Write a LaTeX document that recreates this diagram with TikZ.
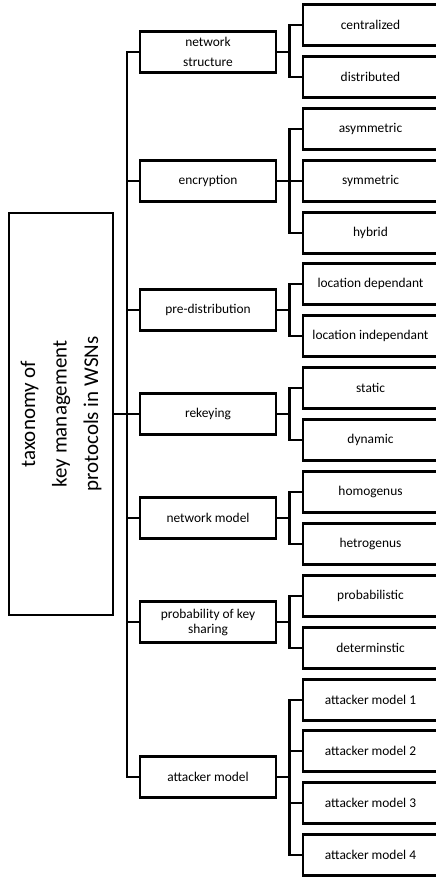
\documentclass[tikz,border=0pt]{standalone}
\usepackage{fontspec}
\setmainfont{Carlito}
\begin{document}
\begin{tikzpicture}[x=1bp,y=-1bp,line width=2.2bp,
  lone/.style={draw,minimum width=136bp,minimum height=41bp,inner sep=0pt,align=center,font=\fontsize{13.4bp}{16bp}\selectfont},
  ltwo/.style={draw,minimum width=135bp,minimum height=41bp,inner sep=0pt,align=center,font=\fontsize{13.4bp}{16bp}\selectfont},
  conn/.style={line width=2.2bp}]
\useasboundingbox (0,0) rectangle (436,877);
% root
\node[draw,rotate=90,minimum width=402bp,minimum height=104bp,inner sep=0pt,align=center,
  font=\fontsize{21bp}{31.5bp}\selectfont] (root) at (61,414) {taxonomy of\\key management\\protocols in WSNs};
% level one
\node[lone,font=\fontsize{13.4bp}{20bp}\selectfont] (ns) at (208,52) {network\\structure};
\node[lone] (en) at (208,181) {encryption};
\node[lone] (pd) at (208,310) {pre-distribution};
\node[lone] (rk) at (208,414) {rekeying};
\node[lone] (nm) at (208,518) {network model};
\node[lone,font=\fontsize{13.4bp}{15bp}\selectfont] (pk) at (208,622) {probability of key\\sharing};
\node[lone] (am) at (208,777) {attacker model};
% level two
\node[ltwo] (c1) at (370.5,25) {centralized};
\node[ltwo] (c2) at (370.5,77) {distributed};
\node[ltwo] (e1) at (370.5,129) {asymmetric};
\node[ltwo] (e2) at (370.5,181) {symmetric};
\node[ltwo] (e3) at (370.5,233) {hybrid};
\node[ltwo] (p1) at (370.5,284) {location dependant};
\node[ltwo] (p2) at (370.5,336) {location independant};
\node[ltwo] (r1) at (370.5,388) {static};
\node[ltwo] (r2) at (370.5,440) {dynamic};
\node[ltwo] (n1) at (370.5,492) {homogenus};
\node[ltwo] (n2) at (370.5,544) {hetrogenus};
\node[ltwo] (k1) at (370.5,596) {probabilistic};
\node[ltwo] (k2) at (370.5,648) {determinstic};
\node[ltwo] (a1) at (370.5,700) {attacker model 1};
\node[ltwo] (a2) at (370.5,751) {attacker model 2};
\node[ltwo] (a3) at (370.5,803) {attacker model 3};
\node[ltwo] (a4) at (370.5,855) {attacker model 4};
% connectors
\coordinate (tx) at (127,0);
\coordinate (bx) at (289.5,0);
\draw[conn] (ns.west) -- (ns.west-|tx) -- (am.west-|tx) -- (am.west);
\draw[conn] (root.south) -- (root.south-|tx);
\foreach \n in {en,pd,rk,nm,pk} \draw[conn] (\n.west) -- (\n.west-|tx);
% second level
\draw[conn] (c1.west) -- (c1.west-|bx) -- (c2.west-|bx) -- (c2.west);
\draw[conn] (ns.east) -- (ns.east-|bx);
\draw[conn] (e1.west) -- (e1.west-|bx) -- (e3.west-|bx) -- (e3.west);
\draw[conn] (en.east) -- (e2.west);
\draw[conn] (p1.west) -- (p1.west-|bx) -- (p2.west-|bx) -- (p2.west);
\draw[conn] (pd.east) -- (pd.east-|bx);
\draw[conn] (r1.west) -- (r1.west-|bx) -- (r2.west-|bx) -- (r2.west);
\draw[conn] (rk.east) -- (rk.east-|bx);
\draw[conn] (n1.west) -- (n1.west-|bx) -- (n2.west-|bx) -- (n2.west);
\draw[conn] (nm.east) -- (nm.east-|bx);
\draw[conn] (k1.west) -- (k1.west-|bx) -- (k2.west-|bx) -- (k2.west);
\draw[conn] (pk.east) -- (pk.east-|bx);
\draw[conn] (a1.west) -- (a1.west-|bx) -- (a4.west-|bx) -- (a4.west);
\draw[conn] (am.east) -- (am.east-|bx);
\draw[conn] (a2.west) -- (a2.west-|bx);
\draw[conn] (a3.west) -- (a3.west-|bx);
\end{tikzpicture}
\end{document}
